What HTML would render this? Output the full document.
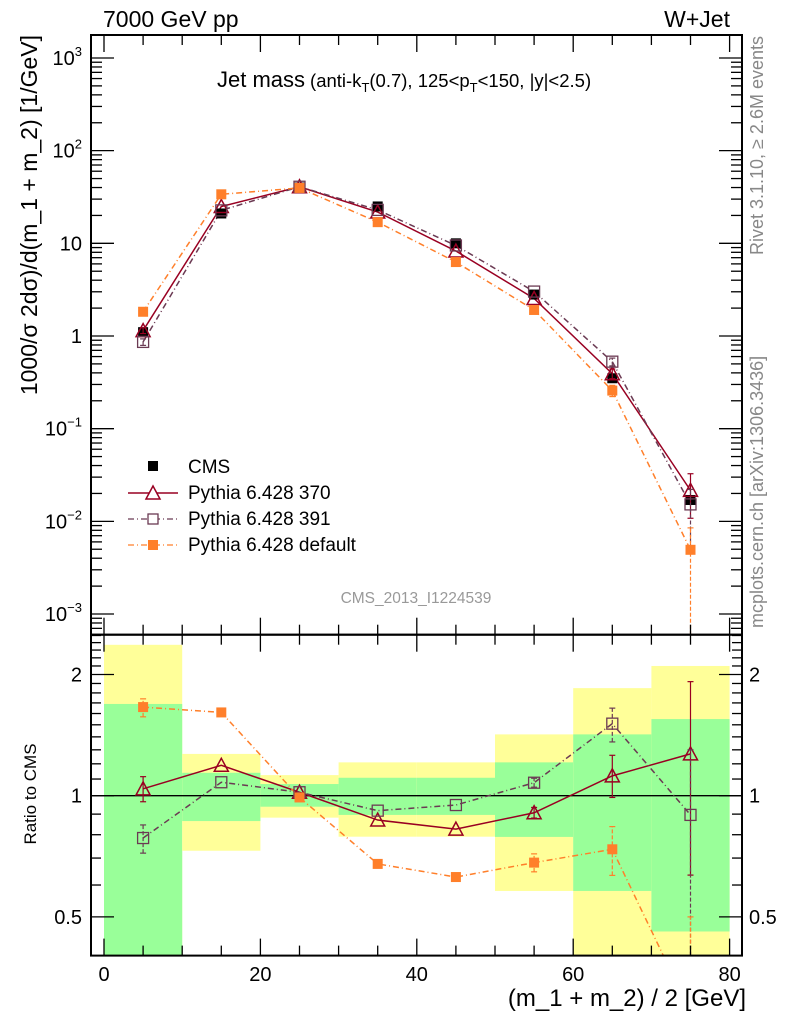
<!DOCTYPE html>
<html><head><meta charset="utf-8"><style>
html,body{margin:0;padding:0;background:#fff;}
svg{display:block;font-family:"Liberation Sans",sans-serif;}
</style></head><body>
<svg id="chart" width="786" height="1024" viewBox="0 0 786 1024" xmlns="http://www.w3.org/2000/svg">
<g id="bands"></g>
<g id="lines"></g>
<g id="marks"></g>
<g id="axes"></g>
<text x="103" y="27" font-size="23">7000 GeV pp</text>
<text x="730" y="27" font-size="23" text-anchor="end">W+Jet</text>
<text x="217" y="87" font-size="22">Jet mass<tspan font-size="18.5" dx="5">(anti-k</tspan><tspan font-size="13" dy="5">T</tspan><tspan font-size="18.5" dy="-5">(0.7), 125&lt;p</tspan><tspan font-size="13" dy="5">T</tspan><tspan font-size="18.5" dy="-5">&lt;150, |y|&lt;2.5)</tspan></text>
<text x="416" y="603" font-size="15.5" fill="#999" text-anchor="middle">CMS_2013_I1224539</text>
<text transform="translate(763,36) rotate(-90)" font-size="18" fill="#888" text-anchor="end">Rivet 3.1.10, ≥ 2.6M events</text>
<text transform="translate(763,628) rotate(-90)" font-size="18" fill="#888">mcplots.cern.ch [arXiv:1306.3436]</text>
<text transform="translate(37,35) rotate(-90)" font-size="23" text-anchor="end">1000/σ 2dσ)/d(m_1 + m_2) [1/GeV]</text>
<text transform="translate(36,794) rotate(-90)" font-size="17" text-anchor="middle">Ratio to CMS</text>
<text x="746" y="1006" font-size="24" text-anchor="end">(m_1 + m_2) / 2 [GeV]</text>
<g font-size="19">
 <rect x="148" y="461" width="10" height="10" fill="#000"/>
 <text x="188" y="473">CMS</text>
 <line x1="128" y1="493" x2="178" y2="493" stroke="#990022" stroke-width="1.5"/>
 <path d="M146,499 L153,486 L160,499 Z" fill="#fff" stroke="#990022" stroke-width="1.5"/>
 <text x="188" y="499">Pythia 6.428 370</text>
 <line x1="128" y1="519" x2="178" y2="519" stroke="#6b3a53" stroke-width="1.3" stroke-dasharray="6,3,1,3"/>
 <rect x="148" y="514" width="10" height="10" fill="#fff" stroke="#6b3a53" stroke-width="1.3"/>
 <text x="188" y="525">Pythia 6.428 391</text>
 <line x1="128" y1="545" x2="178" y2="545" stroke="#ff7f2a" stroke-width="1.3" stroke-dasharray="6,3,1,3"/>
 <rect x="148" y="540" width="10" height="10" fill="#ff7f2a"/>
 <text x="188" y="551">Pythia 6.428 default</text>
</g>
</svg>
<script>
const binLo = [0,10,20,30,40,50,60,70];
const binHi = [10,20,30,40,50,60,70,80];
const xCenters = [5,15,25,35,45,55,65,75];
const cmsValues = [1.1,21,40,25,10,2.8,0.35,0.017];
const ratio370 = [1.04,1.19,1.02,0.87,0.826,0.907,1.12,1.27];
const ratio370Lo = [0.966,1.19,1.02,0.87,0.826,0.88,0.99,0.635];
const ratio370Hi = [1.115,1.19,1.02,0.87,0.826,0.935,1.26,1.92];
const ratio391 = [0.785,1.08,1.02,0.918,0.948,1.077,1.51,0.896];
const ratio391Lo = [0.72,1.08,1.02,0.918,0.948,1.05,1.36,0.3];
const ratio391Hi = [0.846,1.08,1.02,0.918,0.948,1.105,1.65,1.3];
const ratioDef = [1.66,1.61,0.99,0.677,0.628,0.682,0.736,0.29];
const ratioDefLo = [1.57,1.61,0.99,0.677,0.615,0.647,0.634,0.001];
const ratioDefHi = [1.74,1.61,0.99,0.677,0.64,0.717,0.838,0.5];
const bandYellowLo = [0.3,0.73,0.882,0.791,0.791,0.58,0.3,0.3];
const bandYellowHi = [2.37,1.27,1.125,1.21,1.21,1.42,1.85,2.10];
const bandGreenLo = [0.3,0.865,0.939,0.896,0.896,0.79,0.58,0.46];
const bandGreenHi = [1.69,1.14,1.069,1.108,1.108,1.21,1.42,1.55];
const xTicks = [0,20,40,60,80];
const topTickLabels = ["10⁻³","10⁻²","10⁻¹","1","10","10²","10³"];
const ratioTickVals = [0.5,1,2];

const NS="http://www.w3.org/2000/svg";
const L=91,R=742,T=35,MID=634.7,B=955.6;
const X=v=>104+(v/80)*(729.6-104);
const Y=v=>336-Math.log10(v)*92.67;
const RY=v=>{let y=795.7-Math.log2(v)*121.2;return Math.min(Math.max(y,MID),B);};
function mk(tag,attrs,parent){const e=document.createElementNS(NS,tag);for(const k in attrs)e.setAttribute(k,attrs[k]);parent.appendChild(e);return e;}
const bands=document.getElementById('bands'),lines=document.getElementById('lines'),marks=document.getElementById('marks'),axes=document.getElementById('axes');

for(let i=0;i<binLo.length;i++){
 let r=mk('rect',{x:X(binLo[i]),y:RY(bandYellowHi[i]),width:X(binHi[i])-X(binLo[i]),height:RY(bandYellowLo[i])-RY(bandYellowHi[i]),fill:'#ffff99'},bands);
 
 
 let g=mk('rect',{x:X(binLo[i]),y:RY(bandGreenHi[i]),width:X(binHi[i])-X(binLo[i]),height:RY(bandGreenLo[i])-RY(bandGreenHi[i]),fill:'#99ff99'},bands);
 
 
}
mk('line',{x1:L,y1:RY(1),x2:R,y2:RY(1),stroke:'#000','stroke-width':1.3},bands);

const series=[
 {name:'pythia-370',r:ratio370,lo:ratio370Lo,hi:ratio370Hi,c:'#990022',dash:'',m:'tri'},
 {name:'pythia-391',r:ratio391,lo:ratio391Lo,hi:ratio391Hi,c:'#6b3a53',dash:'6,3,1,3',m:'open'},
 {name:'pythia-default',r:ratioDef,lo:ratioDefLo,hi:ratioDefHi,c:'#ff7f2a',dash:'6,3,1,3',m:'fill'}];

function marker(m,x,y,c,name){
 let e;
 if(m==='tri') e=mk('path',{d:`M${x-7},${y+6} L${x},${y-7} L${x+7},${y+6} Z`,fill:'none',stroke:c,'stroke-width':1.5},marks);
 else if(m==='open') e=mk('rect',{x:x-5.5,y:y-5.5,width:11,height:11,fill:'none',stroke:c,'stroke-width':1.3},marks);
 else if(m==='fill') e=mk('rect',{x:x-5,y:y-5,width:10,height:10,fill:c},marks);
 else e=mk('rect',{x:x-5,y:y-5,width:10,height:10,fill:'#000'},marks);
 
 
}
function errbar(x,y1,y2,c,dash){
 if(Math.abs(y1-y2)<3)return;
 mk('line',{x1:x,y1:y1,x2:x,y2:y2,stroke:c,'stroke-width':1.2,'stroke-dasharray':dash},marks);
 if(y1<MID-1||y1>MID+1) if(y1<B-1) mk('line',{x1:x-3,y1:y1,x2:x+3,y2:y1,stroke:c,'stroke-width':1.2},marks);
 mk('line',{x1:x-3,y1:y2,x2:x+3,y2:y2,stroke:c,'stroke-width':1.2},marks);
}
const defs=mk('defs',{},document.getElementById('chart'));
const c1=mk('clipPath',{id:'ctop'},defs);mk('rect',{x:L,y:T,width:R-L,height:MID-T},c1);
const c2=mk('clipPath',{id:'cbot'},defs);mk('rect',{x:L,y:MID,width:R-L,height:B-MID},c2);
const topG=mk('g',{'clip-path':'url(#ctop)'},marks);
const botG=mk('g',{'clip-path':'url(#cbot)'},marks);

for(let i=0;i<xCenters.length;i++){ marker('cms',X(xCenters[i]),Y(cmsValues[i]),'#000','cms-point'); }
series.forEach(s=>{
 const ptsT=xCenters.map((x,i)=>`${X(x)},${Y(cmsValues[i]*s.r[i])}`).join(' ');
 let pl=mk('polyline',{points:ptsT,fill:'none',stroke:s.c,'stroke-width':1.5,'stroke-dasharray':s.dash},topG);
 
 
 const ptsB=xCenters.map((x,i)=>`${X(x)},${795.7-Math.log2(s.r[i])*121.2}`).join(' ');
 let pb=mk('polyline',{points:ptsB,fill:'none',stroke:s.c,'stroke-width':1.5,'stroke-dasharray':s.dash},botG);
 
 
 xCenters.forEach((x,i)=>{
  const px=X(x);
  const yT=Y(cmsValues[i]*s.r[i]);
  errbar(px,Math.min(Y(cmsValues[i]*s.lo[i]),MID),Y(cmsValues[i]*s.hi[i]),s.c,s.dash?'4,2':'');
  if(yT<MID) marker(s.m,px,yT,s.c,s.name+'-point');
  errbar(px,RY(s.lo[i]),RY(s.hi[i]),s.c,s.dash?'4,2':'');
  const yb=795.7-Math.log2(s.r[i])*121.2;
  if(yb>MID&&yb<B) marker(s.m,px,yb,s.c,s.name+'-ratio-point');
 });
});

mk('rect',{x:L,y:T,width:R-L,height:MID-T,fill:'none',stroke:'#000','stroke-width':2},axes);
mk('rect',{x:L,y:MID,width:R-L,height:B-MID,fill:'none',stroke:'#000','stroke-width':2},axes);
for(let v=0;v<=80;v+=5){
 const px=X(v),maj=v%20===0;
 [[T,1],[MID,-1],[MID,1],[B,-1]].forEach(([y0,d])=>{
  mk('line',{x1:px,y1:y0,x2:px,y2:y0+d*(maj?17:10),stroke:'#000','stroke-width':1.3},axes);
 });
}
xTicks.forEach(v=>{let t=mk('text',{x:X(v),y:981,'font-size':20,'text-anchor':'middle'},axes);t.textContent=v;
 
 });
for(let e=-4;e<=3;e++){
 for(let k=1;k<10;k++){
  const v=k*Math.pow(10,e),py=Y(v);
  if(py<T||py>MID)continue;
  const len=k===1?23:11;
  mk('line',{x1:L,y1:py,x2:L+len,y2:py,stroke:'#000','stroke-width':1.3},axes);
  mk('line',{x1:R,y1:py,x2:R-len,y2:py,stroke:'#000','stroke-width':1.3},axes);
 }
}
topTickLabels.forEach((lab,i)=>{
 const e=i-3;
 let t=mk('text',{x:82,y:Y(Math.pow(10,e))+7,'font-size':20,'text-anchor':'end'},axes);
 if(e<=-1||e>=2){t.textContent='10';let s=mk('tspan',{'font-size':13,dy:-9},t);s.textContent=(e<0?'−':'')+Math.abs(e);}
 else t.textContent=lab;
 
 
});
for(let v=0.4;v<=2.51;v+=0.1){
 const vv=Math.round(v*10)/10,py=795.7-Math.log2(vv)*121.2;
 if(py<MID||py>B)continue;
 const maj=ratioTickVals.includes(vv);
 const len=maj?23:10;
 mk('line',{x1:L,y1:py,x2:L+len,y2:py,stroke:'#000','stroke-width':1.3},axes);
 mk('line',{x1:R,y1:py,x2:R-len,y2:py,stroke:'#000','stroke-width':1.3},axes);
}
ratioTickVals.forEach(v=>{
 const py=RY(v)+7;
 let t=mk('text',{x:82,y:py,'font-size':20,'text-anchor':'end'},axes);t.textContent=v;
 
 
 let t2=mk('text',{x:749,y:py,'font-size':20},axes);t2.textContent=v;
 
 
});
</script>
</body></html>
